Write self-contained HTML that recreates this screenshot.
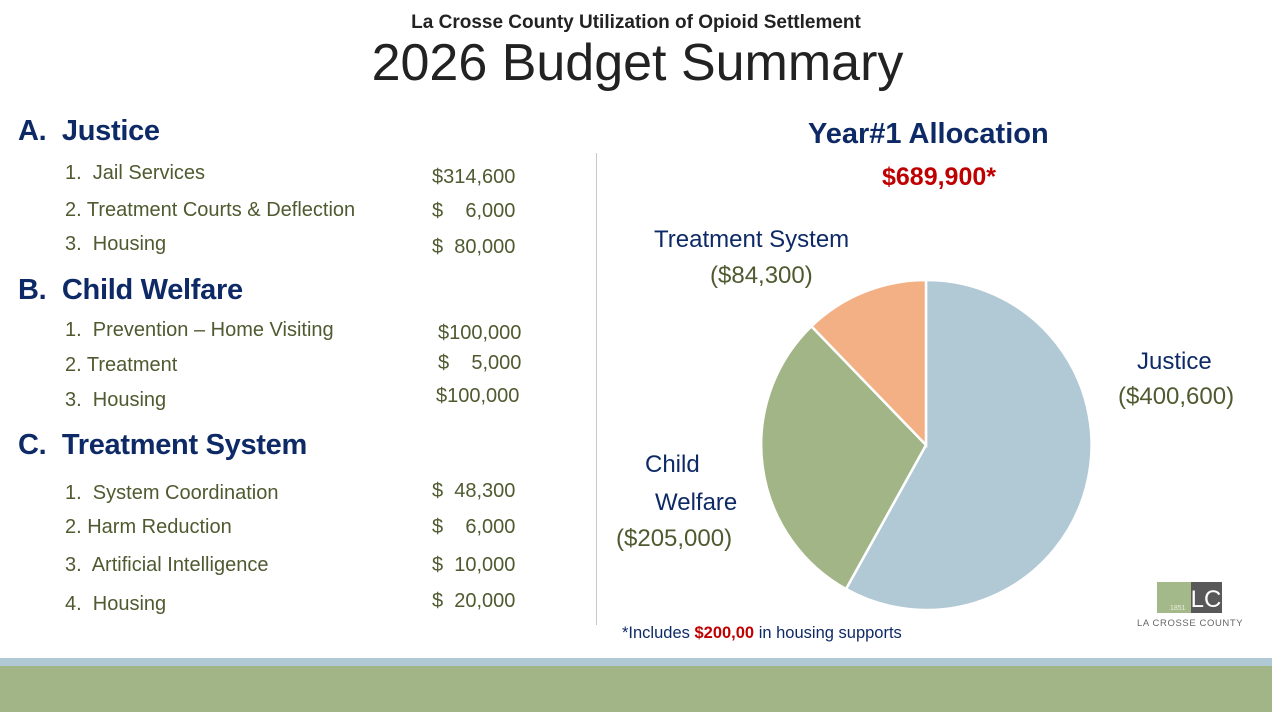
<!DOCTYPE html>
<html><head><meta charset="utf-8"><style>
body{margin:0;width:1272px;height:712px;position:relative;background:#fff;font-family:"Liberation Sans",sans-serif;overflow:hidden}
.a{position:absolute;white-space:nowrap}
.h{color:#0e2a66;font-weight:bold;font-size:29px;letter-spacing:-0.3px}
.i{color:#4f5a30;font-size:20px}
.n{color:#0e2a66}
</style></head><body>
<div class="a" style="left:0;width:1272px;text-align:center;top:12px;font-size:19px;font-weight:bold;color:#222">La Crosse County Utilization of Opioid Settlement</div>
<div class="a" style="left:0;width:1275px;text-align:center;top:33px;font-size:52px;color:#222">2026 Budget Summary</div>

<div class="a h" style="left:18px;top:115px">A.&nbsp; Justice</div>
<div class="a i" style="left:65px;top:162px">1.&nbsp; Jail Services</div>
<div class="a i" style="left:432px;top:166px">$314,600</div>
<div class="a i" style="left:65px;top:199px">2. Treatment Courts &amp; Deflection</div>
<div class="a i" style="left:432px;top:200px">$&nbsp;&nbsp;&nbsp;&nbsp;6,000</div>
<div class="a i" style="left:65px;top:233px">3.&nbsp; Housing</div>
<div class="a i" style="left:432px;top:236px">$&nbsp;&nbsp;80,000</div>

<div class="a h" style="left:18px;top:274px">B.&nbsp; Child Welfare</div>
<div class="a i" style="left:65px;top:319px">1.&nbsp; Prevention – Home Visiting</div>
<div class="a i" style="left:438px;top:322px">$100,000</div>
<div class="a i" style="left:65px;top:354px">2. Treatment</div>
<div class="a i" style="left:438px;top:352px">$&nbsp;&nbsp;&nbsp;&nbsp;5,000</div>
<div class="a i" style="left:65px;top:389px">3.&nbsp; Housing</div>
<div class="a i" style="left:436px;top:385px">$100,000</div>

<div class="a h" style="left:18px;top:429px">C.&nbsp; Treatment System</div>
<div class="a i" style="left:65px;top:482px">1.&nbsp; System Coordination</div>
<div class="a i" style="left:432px;top:480px">$&nbsp;&nbsp;48,300</div>
<div class="a i" style="left:65px;top:516px">2. Harm Reduction</div>
<div class="a i" style="left:432px;top:516px">$&nbsp;&nbsp;&nbsp;&nbsp;6,000</div>
<div class="a i" style="left:65px;top:554px">3.&nbsp; Artificial Intelligence</div>
<div class="a i" style="left:432px;top:554px">$&nbsp;&nbsp;10,000</div>
<div class="a i" style="left:65px;top:593px">4.&nbsp; Housing</div>
<div class="a i" style="left:432px;top:590px">$&nbsp;&nbsp;20,000</div>

<div class="a" style="left:596px;top:153px;width:1px;height:472px;background:#c8c8c8"></div>

<div class="a" style="left:808px;top:118px;font-size:29px;font-weight:bold;color:#0e2a66">Year#1 Allocation</div>
<div class="a" style="left:882px;top:163px;font-size:25px;font-weight:bold;color:#c00000">$689,900*</div>

<div class="a n" style="left:654px;top:226px;font-size:24px">Treatment System</div>
<div class="a i" style="left:710px;top:262px;font-size:24px">($84,300)</div>
<div class="a n" style="left:1137px;top:348px;font-size:24px">Justice</div>
<div class="a i" style="left:1118px;top:383px;font-size:24px">($400,600)</div>
<div class="a n" style="left:645px;top:451px;font-size:24px">Child</div>
<div class="a n" style="left:655px;top:489px;font-size:24px">Welfare</div>
<div class="a i" style="left:616px;top:525px;font-size:24px">($205,000)</div>

<svg class="a" style="left:0;top:0" width="1272" height="712">
<g stroke="#fff" stroke-width="2.5">
<path d="M926 445 L926 280 A165 165 0 1 1 846 589 Z" fill="#b1c8d5"/>
<path d="M926 445 L846 589 A165 165 0 0 1 811.4 326.3 Z" fill="#a1b586"/>
<path d="M926 445 L811.4 326.3 A165 165 0 0 1 926 280 Z" fill="#f2b084"/>
</g>
<rect x="1157" y="582" width="34" height="31" fill="#a4b98a"/>
<rect x="1191" y="582" width="31" height="31" fill="#585858"/>
<text x="1206" y="607" font-size="24" fill="#fff" text-anchor="middle" font-family="Liberation Sans">LC</text>
<text x="1170" y="610" font-size="7" fill="#e8eedd" font-family="Liberation Sans">1851</text>
<rect x="0" y="658" width="1272" height="8" fill="#b1c8d5"/>
<rect x="0" y="666" width="1272" height="46" fill="#a1b586"/>
</svg>
<div class="a" style="left:1137px;top:618px;font-size:9.5px;letter-spacing:0.6px;color:#666">LA CROSSE COUNTY</div>
<div class="a" style="left:622px;top:624px;font-size:16.5px;color:#0e2a66">*Includes <b style="color:#c00000">$200,00</b> in housing supports</div>
</body></html>
